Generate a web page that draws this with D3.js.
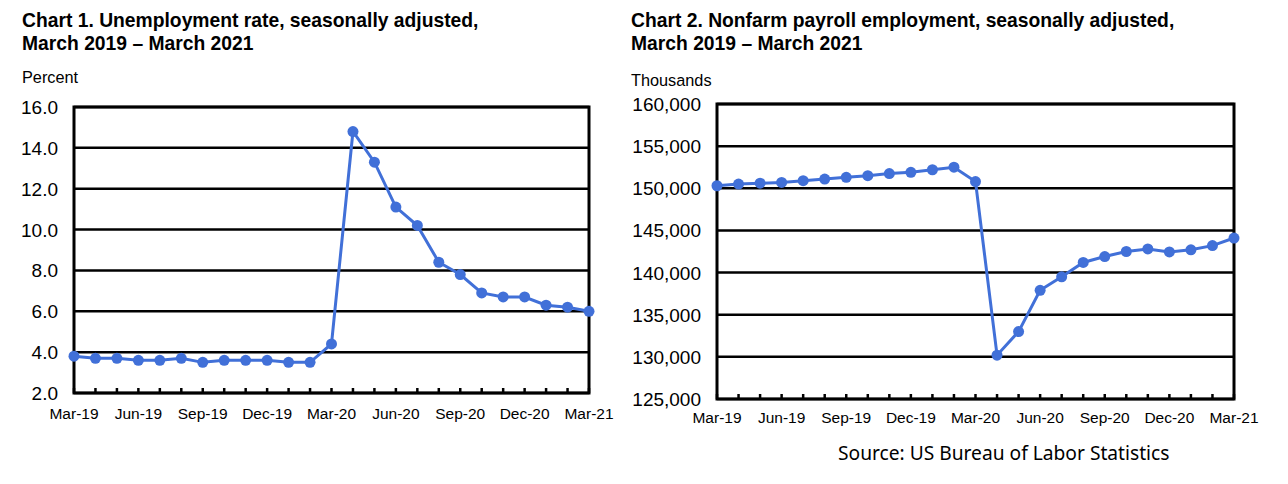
<!DOCTYPE html>
<html>
<head>
<meta charset="utf-8">
<script src="https://cdn.jsdelivr.net/npm/d3@7"></script>
<style>
  body { margin: 0; background: #fff; }
  svg { display: block; }
  text { font-family: Arial, "Liberation Sans", sans-serif; fill: #000; }
</style>
</head>
<body>
<svg id="chart" width="1288" height="484"></svg>
<script>
// months shown on both charts
var months = ['Mar-19','Apr-19','May-19','Jun-19','Jul-19','Aug-19','Sep-19','Oct-19','Nov-19','Dec-19',
              'Jan-20','Feb-20','Mar-20','Apr-20','May-20','Jun-20','Jul-20','Aug-20','Sep-20','Oct-20',
              'Nov-20','Dec-20','Jan-21','Feb-21','Mar-21'];
var monthLabels = ['Mar-19','Jun-19','Sep-19','Dec-19','Mar-20','Jun-20','Sep-20','Dec-20','Mar-21'];

// Chart 1: unemployment rate (percent)
var unemployment = [3.8, 3.7, 3.7, 3.6, 3.6, 3.7, 3.5, 3.6, 3.6, 3.6, 3.5, 3.5, 4.4, 14.8, 13.3,
                    11.1, 10.2, 8.4, 7.8, 6.9, 6.7, 6.7, 6.3, 6.2, 6.0];
var rateTicks = [2, 4, 6, 8, 10, 12, 14, 16];

// Chart 2: nonfarm payroll employment (thousands)
var payroll = [150300, 150500, 150600, 150700, 150900, 151100, 151300, 151500, 151750, 151900,
               152200, 152500, 150800, 130200, 133000, 137900, 139500, 141200, 141900, 142500,
               142800, 142450, 142700, 143200, 144100];
var payrollTicks = [125000, 130000, 135000, 140000, 145000, 150000, 155000, 160000];

var blue = '#4170d8';
var svg = d3.select('#chart');

function drawChart(opt) {
    var g = svg.append('g');

    var x = d3.scalePoint().domain(months).range([opt.left, opt.right]).padding(0);
    var y = d3.scaleLinear().domain(opt.domain).range([opt.bottom, opt.top]);

    // title
    var title = g.append('text')
        .attr('x', opt.titleX)
        .attr('y', 27)
        .style('font-size', '19.3px')
        .style('font-weight', 'bold');
    title.append('tspan').attr('x', opt.titleX).text(opt.title[0]);
    title.append('tspan').attr('x', opt.titleX).attr('dy', 23).text(opt.title[1]);

    // unit label
    g.append('text')
        .attr('x', opt.titleX)
        .attr('y', opt.unitY)
        .style('font-size', '16.3px')
        .text(opt.unit);

    // horizontal grid lines
    g.selectAll('.grid')
        .data(opt.ticks)
        .enter()
        .append('line')
        .attr('x1', opt.left)
        .attr('x2', opt.right)
        .attr('y1', d => y(d))
        .attr('y2', d => y(d))
        .style('stroke', '#000')
        .style('stroke-width', 2.5);

    // y tick labels
    g.selectAll('.ylab')
        .data(opt.ticks)
        .enter()
        .append('text')
        .attr('x', opt.left - 16)
        .attr('y', d => y(d) + 7)
        .style('text-anchor', 'end')
        .style('font-size', '19px')
        .text(opt.fmt);

    // small month ticks pointing up from the bottom edge
    g.selectAll('.mtick')
        .data(months)
        .enter()
        .append('line')
        .attr('x1', d => x(d))
        .attr('x2', d => x(d))
        .attr('y1', opt.bottom)
        .attr('y2', opt.bottom - 5)
        .style('stroke', '#000')
        .style('stroke-width', 2.5);

    // frame
    g.append('rect')
        .attr('x', opt.left)
        .attr('y', opt.top)
        .attr('width', opt.right - opt.left)
        .attr('height', opt.bottom - opt.top)
        .style('fill', 'none')
        .style('stroke', '#000')
        .style('stroke-width', 3);

    // x labels
    g.selectAll('.xlab')
        .data(monthLabels)
        .enter()
        .append('text')
        .attr('x', d => x(d))
        .attr('y', opt.xLabY)
        .style('text-anchor', 'middle')
        .style('font-size', '15.5px')
        .text(d => d);

    // series
    var line = d3.line()
        .x((d, i) => x(months[i]))
        .y(d => y(d));

    g.append('path')
        .datum(opt.values)
        .attr('d', line)
        .style('fill', 'none')
        .style('stroke', blue)
        .style('stroke-width', 3);

    g.selectAll('.dot')
        .data(opt.values)
        .enter()
        .append('circle')
        .attr('cx', (d, i) => x(months[i]))
        .attr('cy', d => y(d))
        .attr('r', 5.5)
        .style('fill', blue);
}

drawChart({
    title: ['Chart 1. Unemployment rate, seasonally adjusted,', 'March 2019 \u2013 March 2021'],
    titleX: 22, unit: 'Percent', unitY: 83,
    left: 74, right: 589, top: 107, bottom: 393,
    domain: [2, 16], ticks: rateTicks,
    fmt: d => d3.format('.1f')(d),
    xLabY: 419,
    values: unemployment
});

drawChart({
    title: ['Chart 2. Nonfarm payroll employment, seasonally adjusted,', 'March 2019 \u2013 March 2021'],
    titleX: 631, unit: 'Thousands', unitY: 86,
    left: 717, right: 1234, top: 104, bottom: 399,
    domain: [125000, 160000], ticks: payrollTicks,
    fmt: d => d3.format(',')(d),
    xLabY: 423,
    values: payroll
});

svg.append('text')
    .attr('x', 838)
    .attr('y', 460)
    .style('font-family', '"Noto Sans", "Open Sans", sans-serif')
    .style('font-size', '19.2px')
    .text('Source: US Bureau of Labor Statistics');
</script>
</body>
</html>
